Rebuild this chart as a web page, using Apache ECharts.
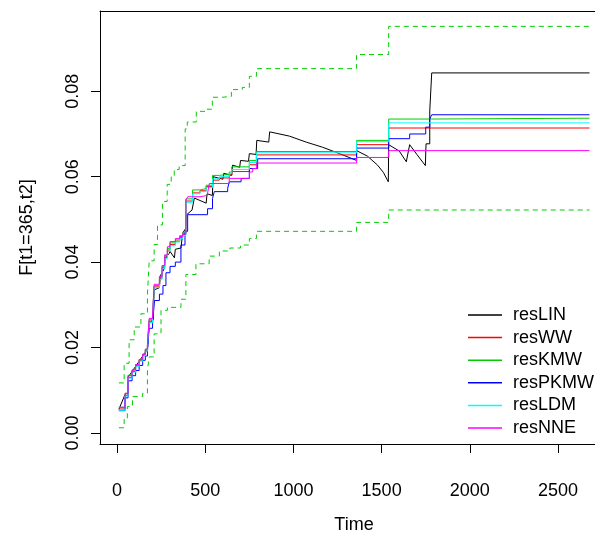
<!DOCTYPE html>
<html>
<head>
<meta charset="utf-8">
<script src="https://cdn.jsdelivr.net/npm/echarts@6/dist/echarts.min.js"></script>
<style>
  html, body { margin: 0; padding: 0; background: #fff; }
  #chart { width: 595px; height: 539px; }
</style>
</head>
<body>
<div id="chart"></div>
<script>
// tick labels
const xTicks = [0, 500, 1000, 1500, 2000, 2500];
const yTicks = [0, 0.02, 0.04, 0.06, 0.08];
const legendNames = ["resLIN", "resWW", "resKMW", "resPKMW", "resLDM", "resNNE"];

// [time, F]
const resLIN = [[10,0.0055],[45,0.0090],[62,0.0094],[62,0.0130],[172,0.0196],[182,0.0198],[182,0.0256],[205,0.0266],[210,0.0335],[240,0.0340],[245,0.0368],[268,0.0385],[272,0.0410],[295,0.0420],[300,0.0425],[325,0.0410],[330,0.0430],[362,0.0433],[372,0.0468],[388,0.0478],[392,0.0510],[425,0.0522],[438,0.0550],[505,0.0538],[510,0.0560],[540,0.0556],[545,0.0600],[600,0.0594],[605,0.0608],[650,0.0603],[655,0.0627],[695,0.0622],[700,0.0638],[745,0.0636],[750,0.0654],[788,0.0652],[792,0.0685],[860,0.0681],[865,0.0705],[977,0.0695],[1072,0.0681],[1165,0.0669],[1261,0.0654],[1358,0.0638],[1358,0.0661],[1420,0.0648],[1477,0.0627],[1510,0.0610],[1538,0.0588],[1540,0.0675],[1600,0.0660],[1640,0.0635],[1659,0.0675],[1700,0.0652],[1748,0.0626],[1752,0.0677],[1773,0.0677],[1773,0.0754],[1784,0.0754],[1784,0.0843],[2679,0.0843]];
const resWW = [[10,0.0056],[45,0.0088],[62,0.0130],[85,0.0144],[105,0.0157],[125,0.0170],[145,0.0182],[160,0.0194],[172,0.0205],[182,0.0262],[201,0.0272],[210,0.0342],[240,0.0362],[255,0.0387],[270,0.0411],[285,0.0428],[300,0.0441],[330,0.0449],[355,0.0458],[372,0.0465],[390,0.0543],[428,0.0562],[470,0.0567],[505,0.0577],[541,0.0592],[580,0.0597],[636,0.0604],[650,0.0612],[750,0.0628],[790,0.0651],[1358,0.0675],[1540,0.0714],[2679,0.0714]];
const resKMW = [[10,0.0060],[45,0.0092],[62,0.0135],[85,0.0148],[105,0.0160],[125,0.0172],[145,0.0185],[160,0.0196],[172,0.0208],[182,0.0266],[201,0.0275],[210,0.0345],[240,0.0366],[255,0.0390],[270,0.0415],[285,0.0432],[300,0.0445],[330,0.0452],[355,0.0462],[372,0.0468],[390,0.0548],[428,0.0569],[470,0.0572],[505,0.0580],[541,0.0603],[580,0.0606],[636,0.0611],[650,0.0623],[750,0.0638],[790,0.0659],[1358,0.0685],[1540,0.0735],[1784,0.0737],[2679,0.0737]];
const resPKMW = [[10,0.0052],[45,0.0082],[62,0.0122],[85,0.0134],[105,0.0146],[125,0.0158],[145,0.0170],[160,0.0180],[172,0.0190],[182,0.0245],[201,0.0255],[212,0.0310],[240,0.0325],[260,0.0345],[277,0.0375],[300,0.0390],[330,0.0400],[362,0.0440],[385,0.0472],[400,0.0511],[513,0.0525],[541,0.0549],[551,0.0565],[627,0.0573],[636,0.0588],[703,0.0596],[750,0.0619],[797,0.0642],[1358,0.0667],[1540,0.0689],[1659,0.0700],[1750,0.0716],[1773,0.0735],[1784,0.0745],[2679,0.0745]];
const resLDM = [[10,0.0053],[45,0.0086],[62,0.0128],[85,0.0142],[105,0.0155],[125,0.0168],[145,0.0180],[160,0.0192],[172,0.0203],[182,0.0258],[201,0.0270],[210,0.0340],[240,0.0360],[255,0.0385],[270,0.0408],[285,0.0425],[300,0.0438],[330,0.0447],[355,0.0455],[372,0.0462],[390,0.0540],[428,0.0560],[470,0.0565],[505,0.0575],[541,0.0595],[580,0.0600],[636,0.0608],[650,0.0617],[750,0.0633],[790,0.0656],[1358,0.0682],[1540,0.0726],[2679,0.0726]];
const resNNE = [[10,0.0060],[45,0.0093],[62,0.0134],[85,0.0147],[105,0.0160],[125,0.0172],[145,0.0184],[160,0.0196],[172,0.0207],[182,0.0268],[201,0.0276],[210,0.0348],[240,0.0366],[255,0.0392],[270,0.0417],[285,0.0436],[300,0.0448],[330,0.0455],[355,0.0460],[372,0.0466],[390,0.0545],[400,0.0553],[470,0.0556],[513,0.0561],[523,0.0584],[636,0.0596],[750,0.0611],[769,0.0619],[790,0.0632],[1358,0.0645],[1540,0.0661],[2679,0.0661]];
const upperBand = [[10,0.0117],[40,0.0163],[68,0.0218],[97,0.0248],[135,0.0279],[172,0.0325],[182,0.0403],[210,0.0441],[229,0.0487],[257,0.0542],[284,0.0582],[307,0.0600],[324,0.0617],[352,0.0626],[386,0.0712],[398,0.0728],[449,0.0753],[506,0.0758],[540,0.0786],[597,0.0788],[648,0.0804],[710,0.0809],[750,0.0835],[790,0.0853],[1358,0.0886],[1540,0.0952],[2679,0.0952]];
const lowerBand = [[10,0.0012],[40,0.0032],[58,0.0062],[87,0.0085],[145,0.0093],[172,0.0147],[182,0.0178],[210,0.0232],[249,0.0287],[285,0.0294],[362,0.0313],[390,0.0371],[447,0.0396],[522,0.0414],[580,0.0426],[640,0.0433],[700,0.0440],[750,0.0455],[790,0.0472],[1358,0.0493],[1540,0.0522],[2679,0.0522]];

const font = "'Liberation Sans', Arial, sans-serif";
const chart = echarts.init(document.getElementById("chart"));

function stepLine(name, data, color, dashed) {
  return {
    name: name,
    type: "line",
    data: data,
    step: dashed === "poly" ? false : "end",
    symbol: "none",
    color: color,
    lineStyle: { color: color, width: 1, type: dashed === true ? [5, 4] : "solid" },
    silent: true,
  };
}

chart.setOption({
  animation: false,
  textStyle: { fontFamily: font },
  grid: { left: 100, right: 0, top: 11, bottom: 91 },
  legend: {
    data: legendNames,
    orient: "vertical",
    left: 463,
    top: 301,
    icon: "rect",
    itemWidth: 34,
    itemHeight: 1.5,
    itemGap: 4.6,
    textStyle: { fontSize: 18, color: "#000", fontFamily: font, padding: [0, 0, 0, 6] },
  },
  xAxis: [
    {
      type: "value",
      min: -97,
      max: 2710,
      name: "Time",
      nameLocation: "middle",
      nameGap: 72,
      nameTextStyle: { fontSize: 18, color: "#000", padding: [0, 0, 0, 13] },
      axisLine: { onZero: false, lineStyle: { color: "#000", width: 1 } },
      axisTick: { show: true, length: 9, lineStyle: { color: "#000" }, customValues: xTicks },
      axisLabel: { fontSize: 18, color: "#000", margin: 38, customValues: xTicks, formatter: (v) => String(v) },
      splitLine: { show: false },
    },
    {
      type: "value",
      position: "top",
      min: -97,
      max: 2710,
      axisLine: { show: true, onZero: false, lineStyle: { color: "#000", width: 1 } },
      axisTick: { show: false },
      axisLabel: { show: false },
      splitLine: { show: false },
    },
  ],
  yAxis: {
    type: "value",
    min: -0.0026,
    max: 0.0988,
    name: "F[t1=365,t2]",
    nameLocation: "middle",
    nameGap: 64,
    nameTextStyle: { fontSize: 18, color: "#000" },
    axisLine: { show: true, onZero: false, lineStyle: { color: "#000", width: 1 } },
    axisTick: { show: true, length: 9, lineStyle: { color: "#000" }, customValues: yTicks },
    axisLabel: {
      fontSize: 18,
      color: "#000",
      rotate: 90,
      margin: 18,
      customValues: yTicks,
      formatter: (v) => v.toFixed(2),
    },
    splitLine: { show: false },
  },
  series: [
    stepLine("upper", upperBand, "#00CD00", true),
    stepLine("lower", lowerBand, "#00CD00", true),
    stepLine("resLIN", resLIN, "#000000", "poly"),
    stepLine("resWW", resWW, "#FF0000"),
    stepLine("resKMW", resKMW, "#00CD00"),
    stepLine("resPKMW", resPKMW, "#0000FF"),
    stepLine("resLDM", resLDM, "#00FFFF"),
    stepLine("resNNE", resNNE, "#FF00FF"),
  ],
});
</script>
</body>
</html>
